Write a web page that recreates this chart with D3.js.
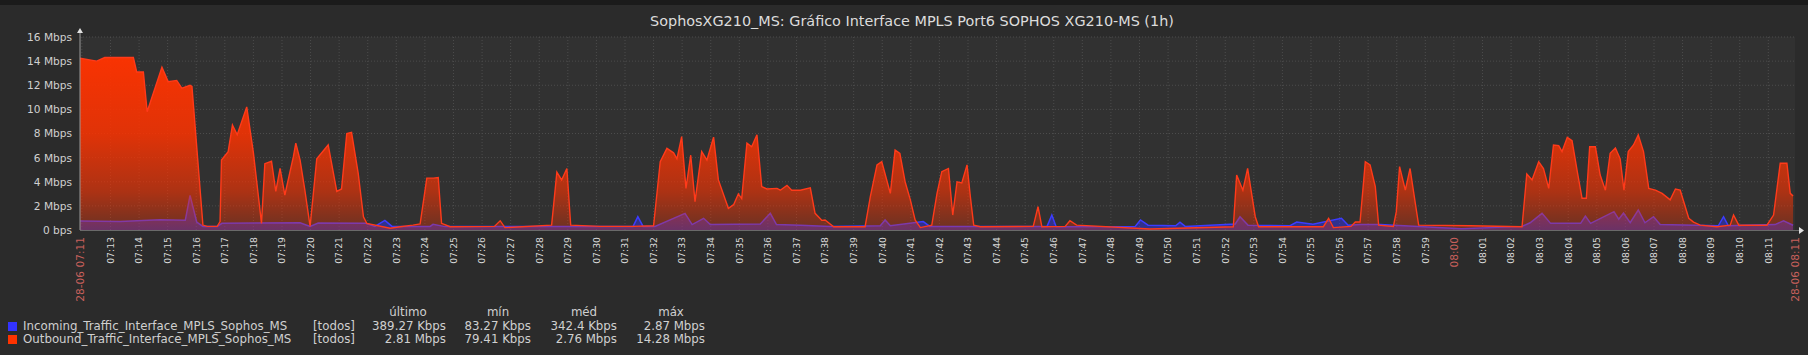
<!DOCTYPE html>
<html>
<head>
<meta charset="utf-8">
<script src="https://cdn.jsdelivr.net/npm/d3@7"></script>
<style>
  body { margin: 0; background: #2b2b2b; }
  svg { display: block; font-family: 'DejaVu Sans', sans-serif; }
</style>
</head>
<body>
<div class="chart"></div>
<script>
// DATA
// ----------------------------
const title = 'SophosXG210_MS: Gráfico Interface MPLS Port6 SOPHOS XG210-MS (1h)'
const startTime = new Date(2018, 5, 28, 7, 11, 56)
const endTime = new Date(2018, 5, 28, 8, 11, 56)
const yTicks = [0, 2, 4, 6, 8, 10, 12, 14, 16]

// [seconds after start, Mbps]
const incoming = [
  [0, 0.75], [84, 0.7], [168, 0.85], [221, 0.8], [231, 2.87], [245, 0.66], [258, 0.3],
  [288, 0.3], [298, 0.55], [462, 0.6], [483, 0.3], [500, 0.58], [600, 0.55], [619, 0.3],
  [640, 0.8], [655, 0.3], [735, 0.3], [741, 0.47], [766, 0.28], [1161, 0.3], [1171, 1.1],
  [1182, 0.3], [1207, 0.3], [1270, 1.38], [1285, 0.45], [1309, 0.97], [1323, 0.45],
  [1428, 0.5], [1449, 1.38], [1462, 0.45], [1512, 0.4], [1575, 0.3], [1680, 0.35], [1690, 0.83],
  [1701, 0.35], [1770, 0.7], [1784, 0.3], [2030, 0.3], [2040, 1.24], [2049, 0.27],
  [2215, 0.3], [2226, 0.83], [2242, 0.4], [2300, 0.35], [2309, 0.65], [2320, 0.3], [2425, 0.5],
  [2435, 1.1], [2452, 0.4], [2540, 0.35], [2554, 0.66], [2588, 0.47], [2648, 0.97], [2662, 0.4],
  [2687, 0.45], [2729, 0.45], [2900, 0.1], [3027, 0.3], [3044, 0.6], [3069, 1.38], [3087, 0.55],
  [3150, 0.55], [3160, 1.16], [3171, 0.55], [3220, 1.52], [3230, 0.9], [3240, 1.4],
  [3254, 0.6], [3271, 1.66], [3285, 0.6], [3303, 1.1], [3317, 0.45], [3439, 0.35],
  [3450, 1.1], [3460, 0.35], [3558, 0.45], [3576, 0.77], [3596, 0.39]
]

const outbound = [
  [0, 14.24], [35, 14.0], [52, 14.3], [112, 14.3], [119, 13.1], [133, 13.1], [141, 9.8],
  [172, 13.5], [185, 12.3], [203, 12.4], [214, 11.75], [231, 12.0], [235, 11.9],
  [258, 0.41], [267, 0.3], [288, 0.3], [294, 0.7], [297, 5.8], [311, 6.5], [320, 8.7],
  [330, 7.9], [350, 10.2], [364, 6.4], [381, 0.55], [388, 5.5], [402, 5.7], [411, 3.2],
  [420, 5.1], [430, 2.9], [448, 6.1], [453, 7.2], [462, 5.8], [472, 3.3], [483, 0.3],
  [497, 5.9], [521, 7.05], [539, 3.2], [549, 3.4], [560, 8.0], [570, 8.1], [584, 4.7],
  [595, 1.1], [602, 0.55], [651, 0.15], [672, 0.27], [699, 0.4], [714, 0.5], [728, 4.3],
  [742, 4.3], [752, 4.35], [759, 0.55], [777, 0.27], [870, 0.3], [882, 0.77], [892, 0.2], [990, 0.4],
  [1001, 4.8], [1011, 4.15], [1022, 5.1], [1030, 0.4], [1092, 0.3], [1161, 0.3],
  [1204, 0.35], [1218, 5.66], [1232, 6.77], [1246, 6.4], [1253, 5.9], [1263, 7.74],
  [1272, 3.45], [1282, 6.2], [1291, 2.35], [1305, 6.5], [1316, 5.8], [1330, 7.7],
  [1340, 4.15], [1361, 1.8], [1372, 2.1], [1382, 3.0], [1389, 2.6], [1400, 7.2],
  [1410, 6.9], [1421, 7.9], [1431, 3.6], [1442, 3.4], [1463, 3.45], [1470, 3.3],
  [1484, 3.7], [1494, 3.3], [1512, 3.3], [1533, 3.5], [1543, 1.38], [1557, 0.8],
  [1564, 0.83], [1582, 0.27], [1648, 0.27], [1659, 2.76], [1673, 5.4], [1683, 5.66],
  [1701, 3.04], [1711, 6.63], [1721, 6.35], [1732, 4.0], [1743, 2.5], [1753, 0.83],
  [1764, 0.2], [1788, 0.4], [1799, 3.04], [1809, 4.84], [1823, 5.1], [1832, 1.24],
  [1841, 4.0], [1851, 3.9], [1862, 5.4], [1869, 2.76], [1876, 0.4], [1890, 0.27],
  [2001, 0.3], [2011, 1.93], [2019, 0.27], [2068, 0.3], [2078, 0.77], [2092, 0.4], [2246, 0.08],
  [2421, 0.27], [2428, 4.56], [2441, 3.3], [2451, 5.1], [2467, 1.1], [2474, 0.27],
  [2610, 0.27], [2621, 0.97], [2631, 0.2], [2668, 0.3], [2677, 0.66], [2687, 0.66], [2698, 5.66],
  [2708, 5.4], [2719, 3.6], [2726, 0.4], [2757, 0.3], [2763, 1.5], [2770, 5.25],
  [2782, 3.3], [2792, 5.1], [2803, 2.2], [2810, 0.4], [2918, 0.35], [3027, 0.27],
  [3037, 4.64], [3048, 4.15], [3062, 5.66], [3072, 5.1], [3083, 3.45], [3093, 7.05],
  [3104, 7.0], [3111, 6.5], [3122, 7.68], [3132, 7.4], [3143, 4.84], [3153, 2.63],
  [3162, 2.63], [3169, 6.9], [3181, 6.9], [3191, 4.56], [3202, 3.3], [3212, 6.36],
  [3223, 6.8], [3233, 5.9], [3241, 3.3], [3250, 6.5], [3261, 7.05], [3271, 7.88],
  [3282, 6.5], [3293, 3.45], [3307, 3.3], [3321, 3.04], [3338, 2.5], [3349, 3.4],
  [3359, 3.3], [3377, 0.97], [3387, 0.66], [3401, 0.4], [3436, 0.27], [3464, 0.4],
  [3471, 1.24], [3482, 0.4], [3541, 0.4], [3555, 1.24], [3569, 5.53], [3583, 5.53],
  [3590, 3.04], [3596, 2.81]
]

const seriesNames = ['Incoming_Traffic_Interface_MPLS_Sophos_MS', 'Outbound_Traffic_Interface_MPLS_Sophos_MS']
const seriesColors = ['#3333ff', '#ff3300']
const statHeaders = ['último', 'mín', 'méd', 'máx']
const statValues = [
  ['389.27 Kbps', '83.27 Kbps', '342.4 Kbps', '2.87 Mbps'],
  ['2.81 Mbps', '79.41 Kbps', '2.76 Mbps', '14.28 Mbps']
]

// SETUP
// ----------------------------
const fullWidth = 1808
const fullHeight = 355
const plot = { left: 80, right: 1795, top: 37, bottom: 230 }
const legendFont = '11.8px'

const svg = d3.select('.chart')
  .append('svg')
    .attr('width', fullWidth)
    .attr('height', fullHeight)

svg.append('rect').attr('width', fullWidth).attr('height', fullHeight).attr('fill', '#2b2b2b')
svg.append('rect').attr('width', fullWidth).attr('height', 5).attr('fill', '#1b1b1b')

svg.append('text')
  .attr('x', 912)
  .attr('y', 25.5)
  .attr('text-anchor', 'middle')
  .style('font-size', '14.4px')
  .style('fill', '#dcdcdc')
  .text(title)

svg.append('rect')
  .attr('x', plot.left).attr('y', plot.top)
  .attr('width', plot.right - plot.left).attr('height', plot.bottom - plot.top)
  .attr('fill', '#313131')

// SCALES
// ----------------------------
const xScale = d3.scaleTime()
  .domain([startTime, endTime])
  .range([plot.left, plot.right])

const yScale = d3.scaleLinear()
  .domain([0, 16])
  .range([plot.bottom, plot.top])

const toDate = s => new Date(startTime.getTime() + s * 1000)

// GRID
// ----------------------------
const minutes = d3.timeMinute.range(d3.timeMinute.ceil(startTime), endTime)

svg.append('g')
  .selectAll('line')
  .data(minutes)
  .enter()
  .append('line')
    .attr('x1', d => xScale(d)).attr('x2', d => xScale(d))
    .attr('y1', plot.top).attr('y2', plot.bottom)
    .attr('stroke', '#4c4c4c')
    .attr('stroke-dasharray', '1,2')

svg.append('g')
  .selectAll('line')
  .data(yTicks.slice(1))
  .enter()
  .append('line')
    .attr('x1', plot.left).attr('x2', plot.right)
    .attr('y1', d => yScale(d)).attr('y2', d => yScale(d))
    .attr('stroke', '#4c4c4c')
    .attr('stroke-dasharray', '1,2')

// Y AXIS
// ----------------------------
const yAxis = d3.axisLeft(yScale)
  .tickValues(yTicks)
  .tickSize(0)
  .tickPadding(8)
  .tickFormat(d => d === 0 ? '0 bps' : d + ' Mbps')

svg.append('g')
    .attr('transform', `translate(${plot.left}, 0)`)
  .call(yAxis)
  .call(g => g.select('.domain').remove())
  .selectAll('text')
    .style('font-size', '10.6px')
    .style('font-family', 'DejaVu Sans')
    .style('fill', '#d0d0d0')

// SERIES
// ----------------------------
const defs = svg.append('defs')
const grad = defs.append('linearGradient')
  .attr('id', 'outGrad')
  .attr('gradientUnits', 'userSpaceOnUse')
  .attr('x1', 0).attr('x2', 0)
  .attr('y1', plot.top).attr('y2', plot.bottom)
grad.append('stop').attr('offset', 0).attr('stop-color', '#ff3300').attr('stop-opacity', 1)
grad.append('stop').attr('offset', 0.5).attr('stop-color', '#ff3300').attr('stop-opacity', 0.85)
grad.append('stop').attr('offset', 0.8).attr('stop-color', '#ff3300').attr('stop-opacity', 0.6)
grad.append('stop').attr('offset', 1).attr('stop-color', '#ff3300').attr('stop-opacity', 0.28)

const area = d3.area()
  .x(d => xScale(toDate(d[0])))
  .y0(plot.bottom)
  .y1(d => yScale(d[1]))

const line = d3.line()
  .x(d => xScale(toDate(d[0])))
  .y(d => yScale(d[1]))

svg.append('path')
  .datum(incoming)
  .attr('d', area)
  .attr('fill', '#3333ff')
  .attr('fill-opacity', 0.45)

svg.append('path')
  .datum(incoming)
  .attr('d', line)
  .attr('fill', 'none')
  .attr('stroke', '#3c3cff')
  .attr('stroke-width', 1.5)

svg.append('path')
  .datum(outbound)
  .attr('d', area)
  .attr('fill', 'url(#outGrad)')

svg.append('path')
  .datum(outbound)
  .attr('d', line)
  .attr('fill', 'none')
  .attr('stroke', '#ff3a1a')
  .attr('stroke-width', 1.4)

// AXIS LINES
// ----------------------------
svg.append('line')
  .attr('x1', plot.left).attr('x2', plot.left)
  .attr('y1', 31).attr('y2', plot.bottom)
  .attr('stroke', '#9a9a9a')
svg.append('line')
  .attr('x1', plot.left).attr('x2', 1800)
  .attr('y1', plot.bottom + 0.5).attr('y2', plot.bottom + 0.5)
  .attr('stroke', '#6a6a6a')
svg.append('path')
  .attr('d', `M${plot.left - 3},33 L${plot.left},28 L${plot.left + 3},33 Z`)
  .attr('fill', '#e0e0e0')
svg.append('path')
  .attr('d', `M1799,${plot.bottom - 3} L1804,${plot.bottom + 0.5} L1799,${plot.bottom + 4} Z`)
  .attr('fill', '#e0e0e0')

// X LABELS
// ----------------------------
const fmt = d3.timeFormat('%H:%M')
const minorTicks = minutes.filter(d => xScale(d) - plot.left > 15 && plot.right - xScale(d) > 15)

svg.append('g')
  .selectAll('text')
  .data(minorTicks)
  .enter()
  .append('text')
    .attr('transform', d => `translate(${xScale(d)}, 237) rotate(-90)`)
    .attr('dy', '0.35em')
    .attr('text-anchor', 'end')
    .style('font-size', d => d.getMinutes() === 0 ? '10.6px' : '9.3px')
    .style('fill', d => d.getMinutes() === 0 ? '#c8605c' : '#d8d8d8')
    .text(d => fmt(d))

const fmtDate = d3.timeFormat('%d-%m %H:%M')
svg.append('g')
  .selectAll('text')
  .data([startTime, endTime])
  .enter()
  .append('text')
    .attr('transform', d => `translate(${xScale(d)}, 237) rotate(-90)`)
    .attr('dy', '0.35em')
    .attr('text-anchor', 'end')
    .style('font-size', '10.6px')
    .style('fill', '#c8605c')
    .text(d => fmtDate(d))

// LEGEND
// ----------------------------
const statRight = [446, 531, 617, 705]
const statCenter = [408, 498, 584, 671]

svg.append('g')
  .selectAll('text')
  .data(statHeaders)
  .enter()
  .append('text')
    .attr('x', (d, i) => statCenter[i])
    .attr('y', 315.5)
    .attr('text-anchor', 'middle')
    .style('font-size', legendFont)
    .style('fill', '#d0d0d0')
    .text(d => d)

const rows = svg.append('g')
  .selectAll('g')
  .data(seriesNames)
  .enter()
  .append('g')
    .attr('transform', (d, i) => `translate(0, ${330 + i * 13})`)

rows.append('rect')
  .attr('x', 8).attr('y', -8)
  .attr('width', 9).attr('height', 9)
  .attr('fill', (d, i) => seriesColors[i])

rows.append('text')
  .attr('x', 23)
  .style('font-size', legendFont)
  .style('fill', '#d0d0d0')
  .text(d => d)

rows.append('text')
  .attr('x', 313)
  .style('font-size', legendFont)
  .style('fill', '#d0d0d0')
  .text('[todos]')

rows.each(function (d, i) {
  d3.select(this).selectAll('.stat')
    .data(statValues[i])
    .enter()
    .append('text')
      .attr('class', 'stat')
      .attr('x', (v, j) => statRight[j])
      .attr('text-anchor', 'end')
      .style('font-size', legendFont)
      .style('fill', '#d0d0d0')
      .text(v => v)
})
</script>
</body>
</html>
